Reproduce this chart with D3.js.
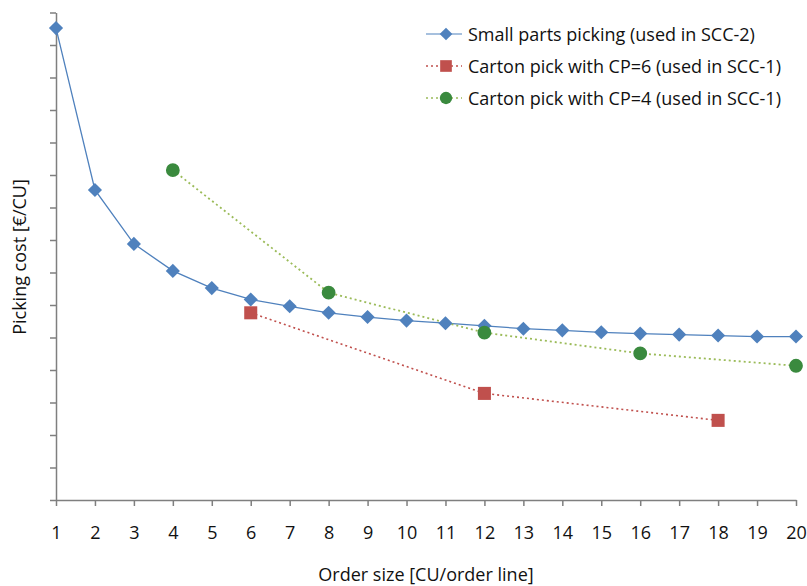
<!DOCTYPE html>
<html><head><meta charset="utf-8">
<script src="https://cdn.jsdelivr.net/npm/d3@7"></script>
<style>body{margin:0;background:#fff}svg{display:block}text{font-family:"Open Sans",sans-serif;fill:#111}</style>
</head><body><svg id="c" width="807" height="586"></svg>
<script>
const xTicks = d3.range(1, 21);
const smallX = [1,2,3,4,5,6,7,8,9,10,11,12,13,14,15,16,17,18,19,20];
const smallY = [14.52,9.54,7.88,7.05,6.52,6.17,5.96,5.76,5.63,5.52,5.44,5.36,5.27,5.22,5.16,5.12,5.09,5.06,5.03,5.03];
const cp6X = [6,12,18];
const cp6Y = [5.76,3.28,2.45];
const cp4X = [4,8,12,16,20];
const cp4Y = [10.15,6.38,5.15,4.51,4.13];
const legendLabels = ["Small parts picking (used in SCC-2)","Carton pick with CP=6 (used in SCC-1)","Carton pick with CP=4 (used in SCC-1)"];
const yTickVals = d3.range(0, 16);

const svg = d3.select("#c");
const x = d3.scaleLinear().domain([1,20]).range([56,796]);
const y = d3.scaleLinear().domain([0,15]).range([500,12.5]);
const axisColor = "#7f7f7f";
const fs = 18;

const gx = svg.append("g").attr("transform","translate(0,500)")
  .call(d3.axisBottom(x).tickValues(xTicks).tickFormat(d3.format("d")).tickSizeInner(6).tickSizeOuter(0).tickPadding(20));
gx.select(".domain").attr("stroke",axisColor).attr("stroke-width",1.5);
gx.selectAll(".tick line").attr("stroke",axisColor).attr("stroke-width",1.5);
gx.selectAll(".tick text").attr("font-size",fs).attr("font-family","'Open Sans',sans-serif").attr("fill","#111");

const gy = svg.append("g").attr("transform","translate(56,0)")
  .call(d3.axisLeft(y).tickValues(yTickVals).tickFormat("").tickSizeInner(6).tickSizeOuter(0));
gy.select(".domain").attr("stroke",axisColor).attr("stroke-width",1.5);
gy.selectAll(".tick line").attr("stroke",axisColor).attr("stroke-width",1.5);

svg.append("text").attr("x",426).attr("y",581).attr("text-anchor","middle").attr("font-size",fs).text("Order size [CU/order line]");
svg.append("text").attr("transform","translate(26,257) rotate(-90)").attr("text-anchor","middle").attr("font-size",fs).text("Picking cost [€/CU]");

const line = d3.line().x(d=>x(d[0])).y(d=>y(d[1]));
const series = [
  {xs:smallX, ys:smallY, line:"#4F81BD", fill:"#4F81BD", dash:null, w:1.3, sym:d3.symbolSquare, size:100, rot:45},
  {xs:cp6X, ys:cp6Y, line:"#C0504D", fill:"#C0504D", dash:"2,3", w:1.6, sym:d3.symbolSquare, size:170, rot:0},
  {xs:cp4X, ys:cp4Y, line:"#9BBB59", fill:"#3A8A3E", dash:"2,3", w:1.8, sym:d3.symbolCircle, size:150, rot:0}
];
series.forEach(s=>{
  const pts = s.xs.map((v,i)=>[v,s.ys[i]]);
  svg.append("path").datum(pts).attr("d",line).attr("fill","none").attr("stroke",s.line)
    .attr("stroke-width",s.w).attr("stroke-dasharray",s.dash);
});
series.forEach(s=>{
  const pts = s.xs.map((v,i)=>[v,s.ys[i]]);
  svg.selectAll(null).data(pts).enter().append("path")
    .attr("d",d3.symbol().type(s.sym).size(s.size))
    .attr("transform",d=>`translate(${x(d[0])},${y(d[1])}) rotate(${s.rot})`)
    .attr("fill",s.fill);
});

// legend
series.forEach((s,i)=>{
  const ly = 34 + i*32;
  svg.append("line").attr("x1",426).attr("x2",462).attr("y1",ly).attr("y2",ly)
    .attr("stroke",s.line).attr("stroke-width",s.w*0.8).attr("stroke-dasharray",s.dash);
  svg.append("path").attr("d",d3.symbol().type(s.sym).size(s.size*0.8))
    .attr("transform",`translate(446,${ly}) rotate(${s.rot})`).attr("fill",s.fill);
  svg.append("text").attr("x",468).attr("y",ly+6.5).attr("font-size",fs).text(legendLabels[i]);
});
</script></body></html>
